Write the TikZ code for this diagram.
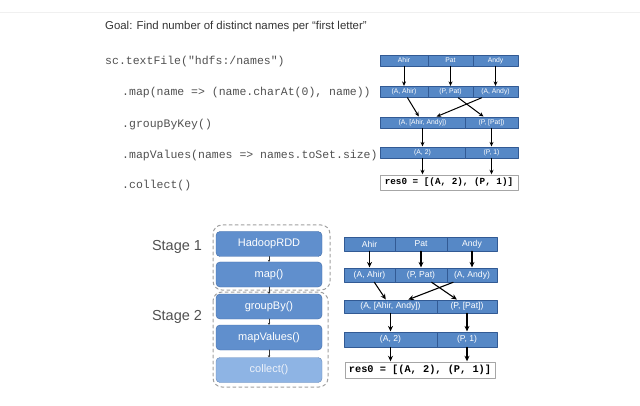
\documentclass[tikz,border=0pt]{standalone}
\usepackage{fontspec}
\setmainfont{Liberation Sans}
\setmonofont{Liberation Mono}
\usetikzlibrary{arrows.meta}
\definecolor{cellblue}{RGB}{86,136,198}
\definecolor{celledge}{RGB}{50,90,148}
\definecolor{stageblue}{RGB}{96,143,205}
\definecolor{stageedge}{RGB}{66,108,168}
\definecolor{stagelight}{RGB}{142,180,228}
\definecolor{codegray}{RGB}{80,80,80}
\definecolor{labelgray}{RGB}{80,80,80}

\begin{document}
\begin{tikzpicture}[x=1pt,y=-1pt,line cap=round,line join=round,>=Stealth,every node/.style={inner sep=1pt},
  cell/.style={draw=celledge,fill=cellblue,text=white,inner sep=0pt,line width=0.6pt},
  small/.style={font=\fontsize{6.8}{7}\selectfont},
  large/.style={font=\fontsize{8.6}{9}\selectfont},
  resbox/.style={draw=gray!70,fill=white,line width=0.8pt,inner sep=0pt},
  code/.style={anchor=west,text=codegray,font=\fontsize{11.5}{13}\selectfont\ttfamily},
  rdd/.style={draw=stageedge,fill=stageblue,text=white,rounded corners=4pt,minimum width=106,minimum height=25,inner sep=0pt,font=\fontsize{11}{12}\selectfont},
  stagebox/.style={draw=gray!75,dashed,line width=1pt,rounded corners=9pt},
  flow/.style={-{Stealth[length=4.5pt,width=4pt]},line width=1pt,shorten >=0.3pt},
  bigflow/.style={-{Stealth[length=5.5pt,width=5pt]},line width=1.1pt,shorten >=0.3pt},
  stageflow/.style={-{Stealth[length=2pt,width=2.5pt]},line width=1pt,draw=black!80}]
  \useasboundingbox (0,0) rectangle (640,406);
  \draw[gray!12] (0,12) -- (640,12);
  \node[anchor=west,text=black!80,font=\fontsize{11.4}{13}\selectfont] (goal) at (104,27) {Goal: Find number of distinct names per “first letter”};
  \node[code] (ctext) at (104,62) {sc.textFile("hdfs:/names")};
  \node[code] (cmap) at (121,93) {.map(name => (name.charAt(0), name))};
  \node[code] (cgroup) at (121,125) {.groupByKey()};
  \node[code] (cvalues) at (121,156) {.mapValues(names => names.toSet.size)};
  \node[code] (ccollect) at (121,186) {.collect()};
  % top right
  \foreach \n/\xa/\xb/\ta/\tb in {1/380/428/Ahir/{(A, Ahir)},2/428/473/Pat/{(P, Pat)},3/473/518/Andy/{(A, Andy)}} {
    \node[cell,small,minimum width={\xb-\xa},minimum height=11] (ta\n) at ({(\xa+\xb)/2},60.5) {\ta};
    \node[cell,small,minimum width={\xb-\xa},minimum height=11] (tb\n) at ({(\xa+\xb)/2},92) {\tb};
  }
  \foreach \n/\xa/\xb/\tc/\td in {1/380/465/{(A, [Ahir, Andy])}/{(A, 2)},2/465/518/{(P, [Pat])}/{(P, 1)}} {
    \node[cell,small,minimum width={\xb-\xa},minimum height=11] (tc\n) at ({(\xa+\xb)/2},122.5) {\tc};
    \node[cell,small,minimum width={\xb-\xa},minimum height=11] (td\n) at ({(\xa+\xb)/2},152.5) {\td};
  }
  \node[resbox,minimum width=138,minimum height=15,font=\fontsize{9.3}{10}\selectfont\ttfamily\bfseries] (tres) at (449,182.5) {res0 = [(A, 2), (P, 1)]};
  \foreach \n in {1,2,3} \draw[flow] (ta\n) -- (tb\n);
  \draw[flow] (tb1) -- (tc1);
  \draw[flow] (tb3) -- (tc1);
  \draw[flow] (tb2) -- (tc2);
  \foreach \n in {1,2} {
    \draw[flow] (tc\n) -- (td\n);
    \draw[flow] (td\n.south) -- (td\n.south |- tres.north);
  }
  % stages
  \draw[stagebox] (213,225) rectangle (330,290);
  \draw[stagebox] (213,292) rectangle (328,387);
  \node[text=labelgray,font=\fontsize{14.5}{16}\selectfont] (stage1) at (177,247) {Stage 1};
  \node[text=labelgray,font=\fontsize{14.5}{16}\selectfont] (stage2) at (177,317) {Stage 2};
  \node[rdd] (hadoop) at (269,244) {HadoopRDD};
  \node[rdd] (mapst) at (269,274.5) {map()};
  \node[rdd] (groupst) at (269,306.5) {groupBy()};
  \node[rdd] (valuesst) at (269,337.5) {mapValues()};
  \node[rdd,fill=stagelight,draw=stageedge!80,text=white!88!stageblue] (collectst) at (269,370) {collect()};
  \draw[stageflow] (hadoop) -- (mapst);
  \draw[stageflow] (mapst) -- (groupst);
  \draw[stageflow] (groupst) -- (valuesst);
  \draw[stageflow] (valuesst) -- (collectst);
  % bottom right
  \foreach \n/\xa/\xb/\ta/\tb in {1/344/395/Ahir/{(A, Ahir)},2/395/447/Pat/{(P, Pat)},3/447/497/Andy/{(A, Andy)}} {
    \node[cell,large,minimum width={\xb-\xa},minimum height=14] (ba\n) at ({(\xa+\xb)/2},244) {\ta};
    \node[cell,large,minimum width={\xb-\xa},minimum height=14] (bb\n) at ({(\xa+\xb)/2},275) {\tb};
  }
  \foreach \n/\xa/\xb/\tc/\td in {1/344/437/{(A, [Ahir, Andy])}/{(A, 2)},2/437/497/{(P, [Pat])}/{(P, 1)}} {
    \node[cell,large,minimum width={\xb-\xa},minimum height=13] (bc\n) at ({(\xa+\xb)/2},306.5) {\tc};
    \node[cell,large,minimum width={\xb-\xa},minimum height=15] (bd\n) at ({(\xa+\xb)/2},339.5) {\td};
  }
  \node[resbox,minimum width=150,minimum height=16,font=\fontsize{10.3}{11}\selectfont\ttfamily\bfseries] (bres) at (420,370) {res0 = [(A, 2), (P, 1)]};
  \foreach \n in {1,2,3} \draw[bigflow] (ba\n) -- (bb\n);
  \draw[bigflow] (bb1) -- (bc1);
  \draw[bigflow] (bb3) -- (bc1);
  \draw[bigflow] (bb2) -- (bc2);
  \foreach \n in {1,2} {
    \draw[bigflow] (bc\n) -- (bd\n);
    \draw[bigflow] (bd\n.south) -- (bd\n.south |- bres.north);
  }
\end{tikzpicture}
\end{document}
